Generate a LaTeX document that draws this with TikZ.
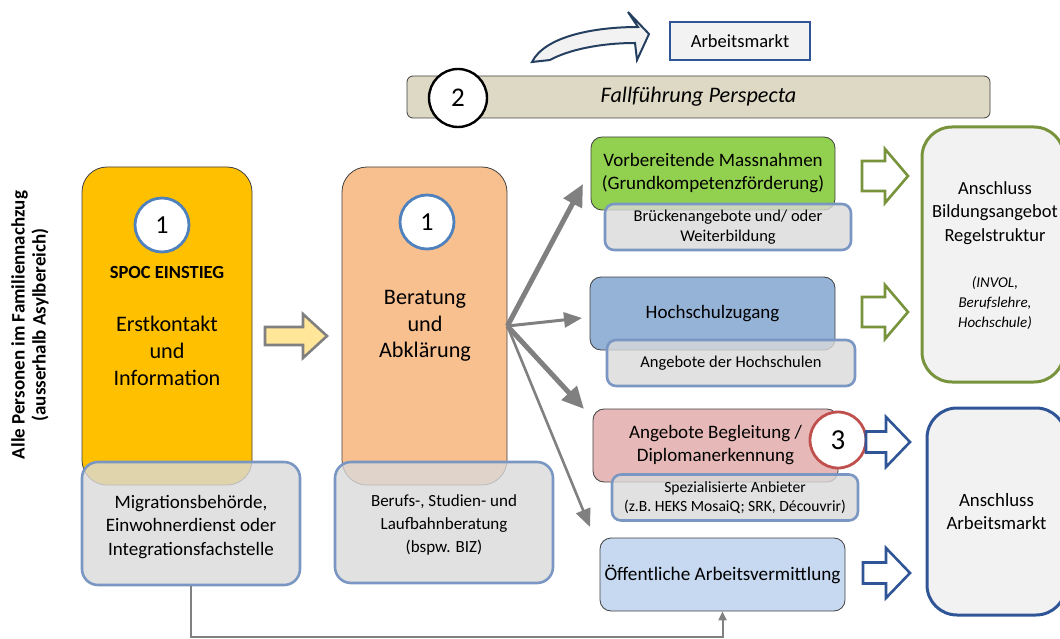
\documentclass[tikz,border=0pt]{standalone}
\usepackage{fontspec}
\setmainfont{Carlito}
\usetikzlibrary{arrows.meta}
\definecolor{spocY}{RGB}{255,192,0}
\definecolor{beratO}{RGB}{248,191,143}
\definecolor{subGray}{RGB}{217,217,217}
\definecolor{subEdge}{RGB}{122,150,194}
\definecolor{boxEdge}{RGB}{64,64,64}
\definecolor{circBlue}{RGB}{79,129,189}
\definecolor{circRed}{RGB}{192,80,77}
\definecolor{vorbG}{RGB}{146,208,80}
\definecolor{hochB}{RGB}{149,179,215}
\definecolor{beglR}{RGB}{230,185,184}
\definecolor{oeffB}{RGB}{198,217,241}
\definecolor{grnEdge}{RGB}{119,147,60}
\definecolor{bluEdge}{RGB}{47,85,151}
\definecolor{panel}{RGB}{242,242,242}
\definecolor{fallC}{RGB}{221,217,196}
\definecolor{arrGray}{RGB}{128,128,128}
\definecolor{arrY}{RGB}{255,230,153}
\definecolor{curveEdge}{RGB}{36,63,96}
\newcommand{\blkarrow}[7]{%
  \path[#7] ({#1},{#4-#5}) -- ({#2},{#4-#5}) -- ({#2},{#4-#6}) -- ({#3},{#4})
    -- ({#2},{#4+#6}) -- ({#2},{#4+#5}) -- ({#1},{#4+#5}) -- cycle;}
\begin{document}
\begin{tikzpicture}[x=1pt,y=-1pt,
  mainbox/.style={draw=boxEdge,line width=0.8pt,rounded corners=25pt,inner sep=0pt},
  midbox/.style={draw=boxEdge,line width=0.8pt,rounded corners=11pt,inner sep=0pt,align=center,font=\fontsize{19}{23}\selectfont},
  subbox/.style={draw=subEdge,line width=2.6pt,fill=subGray,fill opacity=0.8,text opacity=1,rounded corners=16pt,inner sep=0pt,align=center},
  smallsub/.style={draw=subEdge,line width=2.6pt,fill=subGray,fill opacity=0.8,text opacity=1,rounded corners=9pt,inner sep=0pt,align=center,font=\fontsize{16.5}{20}\selectfont},
  numcirc/.style={circle,fill=white,line width=2.8pt,minimum size=54pt,inner sep=0pt},
  fan/.style={draw=arrGray,line width=#1},
  txt/.style={align=center,inner sep=0pt}]
\useasboundingbox (0,0) rectangle (1060,639);

% left rotated label
\node[txt,rotate=90,font=\fontsize{19}{21}\selectfont\bfseries] (lbl) at (30,325) {Alle Personen im Familiennachzug\\(ausserhalb Asylbereich)};

% SPOC column
\node[mainbox,fill=spocY,minimum width=170pt,minimum height=318pt] (spoc) at (167,326) {};
\node[numcirc,draw=circBlue] (c1a) at (162,225) {\fontsize{26}{26}\selectfont 1};
\node[txt,font=\fontsize{18.5}{18}\selectfont\bfseries] (spoct) at (167,272) {SPOC EINSTIEG};
\node[txt,font=\fontsize{22.2}{27}\selectfont] (erst) at (167,351) {Erstkontakt\\und\\Information};
\node[subbox,minimum width=218pt,minimum height=123pt] (migr) at (191,523.5) {};
\node[txt,font=\fontsize{19}{23.5}\selectfont] (migrt) at (191,527) {Migrationsbehörde,\\Einwohnerdienst oder\\Integrationsfachstelle};

% yellow arrow
\blkarrow{265}{303}{327}{336}{9}{22}{draw=arrGray,fill=arrY,line width=2.6pt,line join=miter}

% Beratung column
\node[mainbox,fill=beratO,minimum width=165pt,minimum height=318pt] (berat) at (424.5,326) {};
\node[numcirc,draw=circBlue] (c1b) at (427,222) {\fontsize{26}{26}\selectfont 1};
\node[txt,font=\fontsize{22.2}{26.5}\selectfont] (beratt) at (425,326) {Beratung\\und\\Abklärung};
\node[subbox,minimum width=218pt,minimum height=121pt] (berufs) at (444,522.5) {};
\node[txt,font=\fontsize{17}{23}\selectfont] (berufst) at (444,525) {Berufs-, Studien- und\\Laufbahnberatung\\(bspw. BIZ)};

% top: curved arrow, Arbeitsmarkt, Fallfuehrung
\path[draw=curveEdge,line width=2pt,fill=panel,line join=miter]
  (532,62) -- (550,60) .. controls (568,50) and (600,43) .. (635,43)
  -- (637,60) -- (649,34) -- (628,12) -- (638,27)
  .. controls (595,27) and (545,36) .. (532,62) -- cycle;
\node[draw=bluEdge,line width=2.6pt,fill=panel,minimum width=140pt,minimum height=38pt,inner sep=0pt,font=\fontsize{18.5}{18}\selectfont] (am) at (740,41) {Arbeitsmarkt};
\node[draw=boxEdge,line width=0.8pt,fill=fallC,rounded corners=6pt,minimum width=583pt,minimum height=42pt,inner sep=0pt,font=\fontsize{22.2}{22}\selectfont\itshape] (fall) at (698.5,97) {Fallführung Perspecta};
\node[numcirc,draw=black,line width=2.4pt,minimum size=58pt] (c2) at (458,98) {\fontsize{27}{27}\selectfont 2};

% middle column boxes
\node[midbox,fill=vorbG,minimum width=244pt,minimum height=73pt] (vorb) at (713,173.5) {Vorbereitende Massnahmen\\(Grundkompetenzförderung)};
\node[smallsub,minimum width=246pt,minimum height=46pt] (brueck) at (728,227) {Brückenangebote und/ oder\\Weiterbildung};
\node[midbox,fill=hochB,minimum width=245pt,minimum height=73pt] (hoch) at (712.5,313.5) {Hochschulzugang};
\node[smallsub,minimum width=248pt,minimum height=46pt] (anghoch) at (731,363) {Angebote der Hochschulen};
\node[midbox,fill=beglR,minimum width=245pt,minimum height=73pt] (begl) at (715.5,445.5) {Angebote Begleitung /\\Diplomanerkennung};
\node[smallsub,minimum width=246pt,minimum height=46pt,font=\fontsize{15.6}{19.5}\selectfont] (spez) at (735,497.5) {Spezialisierte Anbieter\\(z.B. HEKS MosaiQ; SRK, Découvrir)};
\node[midbox,fill=oeffB,minimum width=245pt,minimum height=73pt,font=\fontsize{19.2}{20}\selectfont] (oeff) at (722.5,574.5) {Öffentliche Arbeitsvermittlung};
\node[numcirc,draw=circRed,minimum size=56pt] (c3) at (838,440) {\fontsize{29}{29}\selectfont 3};

% fan arrows from Beratung
\coordinate (t1) at (583,184);
\coordinate (t2) at (582,318);
\coordinate (t3) at (584,409);
\coordinate (t4) at (590,527);
\draw[fan=5pt,-{Triangle[length=22pt,width=20pt]}] (berat.east) -- (t1);
\draw[fan=3pt,-{Triangle[length=18pt,width=15pt]}] (berat.east) -- (t2);
\draw[fan=5pt,-{Triangle[length=22pt,width=20pt]}] (berat.east) -- (t3);
\draw[fan=2.6pt,-{Triangle[length=18pt,width=15pt]}] (berat.east) -- (t4);

% hollow arrows to the right
\blkarrow{862}{885}{908}{176}{15}{27}{draw=grnEdge,fill=white,line width=2.6pt,line join=miter}
\blkarrow{862}{885}{908}{312}{15}{27}{draw=grnEdge,fill=white,line width=2.6pt,line join=miter}
\blkarrow{866}{886}{910}{442}{10.5}{25}{draw=bluEdge,fill=white,line width=2.6pt,line join=miter}
\blkarrow{863}{886}{910}{573}{10.5}{25}{draw=bluEdge,fill=white,line width=2.6pt,line join=miter}

% right boxes
\node[draw=grnEdge,line width=3pt,fill=panel,rounded corners=30pt,minimum width=142pt,minimum height=255pt,inner sep=0pt] (bild) at (993,254.5) {};
\node[txt,font=\fontsize{18.5}{23.5}\selectfont] (bildt) at (995,213) {Anschluss\\Bildungsangebot\\Regelstruktur};
\node[txt,font=\fontsize{15}{20}\selectfont\itshape] (bildi) at (995,303) {(INVOL,\\Berufslehre,\\Hochschule)};
\node[draw=bluEdge,line width=3pt,fill=panel,rounded corners=30pt,minimum width=139pt,minimum height=207pt,inner sep=0pt,font=\fontsize{18.8}{23.5}\selectfont,align=center] (arbm) at (996.5,511.5) {Anschluss\\Arbeitsmarkt};

% bottom connector
\coordinate (bot) at (191,637);
\draw[draw=arrGray,line width=2pt,-{Triangle[length=9pt,width=8pt]}] (migr.south) -- (bot) -| (oeff.south);
\end{tikzpicture}
\end{document}
